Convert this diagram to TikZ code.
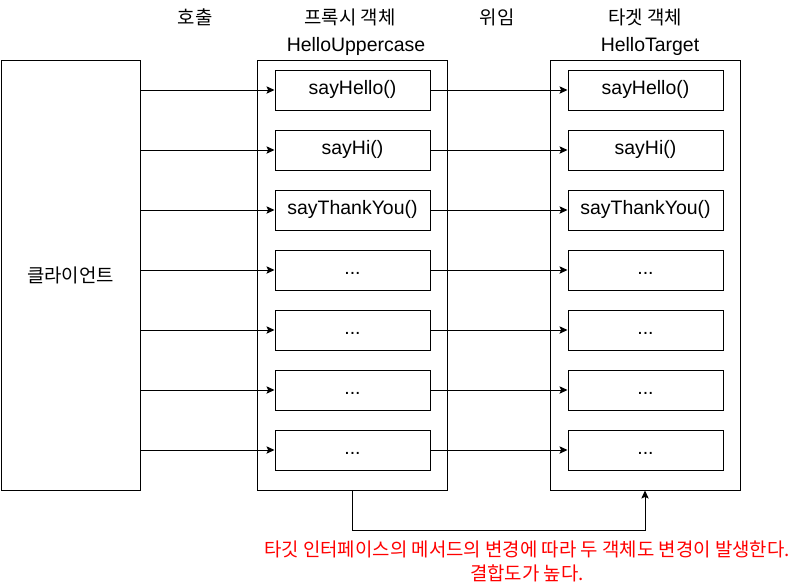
\documentclass[tikz,border=0pt]{standalone}
\usepackage{fontspec}
\setmainfont{Liberation Sans}
\newfontfamily\kr{Noto Sans CJK KR}[Scale=0.97]
\usetikzlibrary{arrows.meta}
\begin{document}
\begin{tikzpicture}[x=0.75pt,y=-0.75pt,line width=0.75pt,
  every node/.style={font=\fontsize{14.6}{17.5}\selectfont,inner sep=0pt},
  clientbox/.style={draw,minimum width=139*0.75pt,minimum height=430*0.75pt},
  bigbox/.style={draw,minimum width=190*0.75pt,minimum height=430*0.75pt},
  method/.style={draw,minimum width=155*0.75pt,minimum height=40*0.75pt,text height=10.5pt,text depth=3.1pt},
  arr/.style={-{Stealth[length=6pt,width=5.5pt,inset=1.2pt]}},
  note/.style={text=red}]
\useasboundingbox (0,0) rectangle (811,587);
% headers
\node (h1) at (195,17) {\kr 호출};
\node (h2) at (350,17) {\kr 프록시 객체};
\node (h3) at (356,46) {HelloUppercase};
\node (h4) at (497,17) {\kr 위임};
\node (h5) at (645,17) {\kr 타겟 객체};
\node (h6) at (650,46) {HelloTarget};
% big boxes
\node[clientbox] (client) at (70.5,275) {\kr 클라이언트};
\node[bigbox] (proxy) at (352,275) {};
\node[bigbox] (target) at (645,275) {};
% proxy methods
\node[method] (p1) at (352.5,90) {sayHello()};
\node[method] (p2) at (352.5,150) {sayHi()};
\node[method] (p3) at (352.5,210) {sayThankYou()};
\node[method] (p4) at (352.5,270) {...};
\node[method] (p5) at (352.5,330) {...};
\node[method] (p6) at (352.5,390) {...};
\node[method] (p7) at (352.5,450) {...};
% target methods
\node[method] (t1) at (645.5,90) {sayHello()};
\node[method] (t2) at (645.5,150) {sayHi()};
\node[method] (t3) at (645.5,210) {sayThankYou()};
\node[method] (t4) at (645.5,270) {...};
\node[method] (t5) at (645.5,330) {...};
\node[method] (t6) at (645.5,390) {...};
\node[method] (t7) at (645.5,450) {...};
% arrows
\foreach \i in {1,...,7}{
  \draw[arr] (client.east |- p\i.west) -- (p\i.west);
  \draw[arr] (p\i.east) -- (t\i.west);
}
\draw[arr] (proxy.south) -- ++(0,40) -| (target.south);
% note
\node[note] (n1) at (527,549) {\kr 타깃 인터페이스의 메서드의 변경에 따라 두 객체도 변경이 발생한다.};
\node[note] (n2) at (527,573) {\kr 결합도가 높다.};
\end{tikzpicture}
\end{document}
